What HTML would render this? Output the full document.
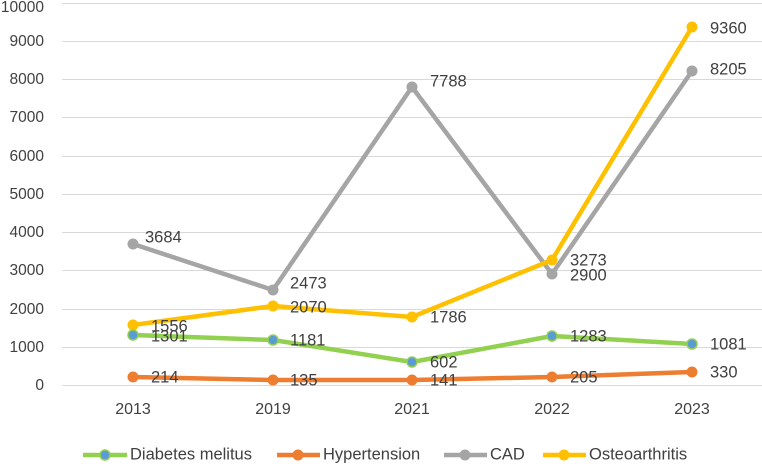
<!DOCTYPE html>
<html><head><style>body{margin:0;background:#fff}svg{display:block}text{font-family:"Liberation Sans",sans-serif;fill:#404040}</style></head><body>
<svg width="762" height="464" xmlns="http://www.w3.org/2000/svg">
<g stroke="#d9d9d9" stroke-width="1">
<line x1="62" x2="762" y1="385.5" y2="385.5"/><line x1="62" x2="762" y1="347.5" y2="347.5"/><line x1="62" x2="762" y1="309.5" y2="309.5"/><line x1="62" x2="762" y1="270.5" y2="270.5"/><line x1="62" x2="762" y1="232.5" y2="232.5"/><line x1="62" x2="762" y1="194.5" y2="194.5"/><line x1="62" x2="762" y1="156.5" y2="156.5"/><line x1="62" x2="762" y1="117.5" y2="117.5"/><line x1="62" x2="762" y1="79.5" y2="79.5"/><line x1="62" x2="762" y1="41.5" y2="41.5"/><line x1="62" x2="762" y1="3.5" y2="3.5"/>
</g>
<g font-size="15.5" text-anchor="end" dominant-baseline="middle">
<text x="44" y="386">0</text><text x="44" y="348">1000</text><text x="44" y="310">2000</text><text x="44" y="271">3000</text><text x="44" y="233">4000</text><text x="44" y="195">5000</text><text x="44" y="157">6000</text><text x="44" y="118">7000</text><text x="44" y="80">8000</text><text x="44" y="42">9000</text><text x="44" y="8">10000</text>
</g>
<g font-size="16" text-anchor="middle" dominant-baseline="middle">
<text x="133" y="410">2013</text><text x="273" y="410">2019</text><text x="412" y="410">2021</text><text x="552" y="410">2022</text><text x="692" y="410">2023</text>
</g>
<g fill="none" stroke-width="4.5" stroke-linejoin="round">
<polyline stroke="#A5A5A5" points="133,244 273,290 412,87 552,274 692,71"/>
<polyline stroke="#FFC000" points="133,325 273,306 412,317 552,260 692,27"/>
<polyline stroke="#92D050" points="133,335 273,340 412,362 552,336 692,344"/>
<polyline stroke="#ED7D31" points="133,377 273,380 412,380 552,377 692,372"/>
</g>
<g fill="#A5A5A5"><circle cx="133" cy="244" r="5.5"/><circle cx="273" cy="290" r="5.5"/><circle cx="412" cy="87" r="5.5"/><circle cx="552" cy="274" r="5.5"/><circle cx="692" cy="71" r="5.5"/></g>
<g fill="#FFC000"><circle cx="133" cy="325" r="5.5"/><circle cx="273" cy="306" r="5.5"/><circle cx="412" cy="317" r="5.5"/><circle cx="552" cy="260" r="5.5"/><circle cx="692" cy="27" r="5.5"/></g>
<g fill="#5B9BD5" stroke="#92D050" stroke-width="1.5"><circle cx="133" cy="335" r="5"/><circle cx="273" cy="340" r="5"/><circle cx="412" cy="362" r="5"/><circle cx="552" cy="336" r="5"/><circle cx="692" cy="344" r="5"/></g>
<g fill="#ED7D31"><circle cx="133" cy="377" r="5.5"/><circle cx="273" cy="380" r="5.5"/><circle cx="412" cy="380" r="5.5"/><circle cx="552" cy="377" r="5.5"/><circle cx="692" cy="372" r="5.5"/></g>
<g font-size="16.5" dominant-baseline="middle">
<text x="145" y="238">3684</text><text x="290" y="284">2473</text><text x="430" y="82">7788</text><text x="570" y="276">2900</text><text x="710" y="70">8205</text>
<text x="151" y="327">1556</text><text x="290" y="308">2070</text><text x="430" y="318">1786</text><text x="570" y="261">3273</text><text x="710" y="29">9360</text>
<text x="151" y="337">1301</text><text x="290" y="341">1181</text><text x="430" y="363">602</text><text x="570" y="337">1283</text><text x="710" y="345">1081</text>
<text x="151" y="378">214</text><text x="290" y="381">135</text><text x="430" y="381">141</text><text x="570" y="378">205</text><text x="710" y="373">330</text>
</g>
<g stroke-width="4.5">
<line x1="83" x2="127" y1="455" y2="455" stroke="#92D050"/><circle cx="105" cy="455" r="5" fill="#5B9BD5" stroke="#92D050" stroke-width="1.5"/>
<line x1="277" x2="320" y1="455" y2="455" stroke="#ED7D31"/><circle cx="298" cy="455" r="5.5" fill="#ED7D31" stroke="none"/>
<line x1="444" x2="487" y1="455" y2="455" stroke="#A5A5A5"/><circle cx="465" cy="455" r="5.5" fill="#A5A5A5" stroke="none"/>
<line x1="543" x2="586" y1="455" y2="455" stroke="#FFC000"/><circle cx="564" cy="455" r="5.5" fill="#FFC000" stroke="none"/>
</g>
<g font-size="16.5" dominant-baseline="middle">
<text x="130" y="455">Diabetes melitus</text><text x="323" y="455">Hypertension</text><text x="490" y="455">CAD</text><text x="589" y="455">Osteoarthritis</text>
</g>
</svg>
</body></html>
